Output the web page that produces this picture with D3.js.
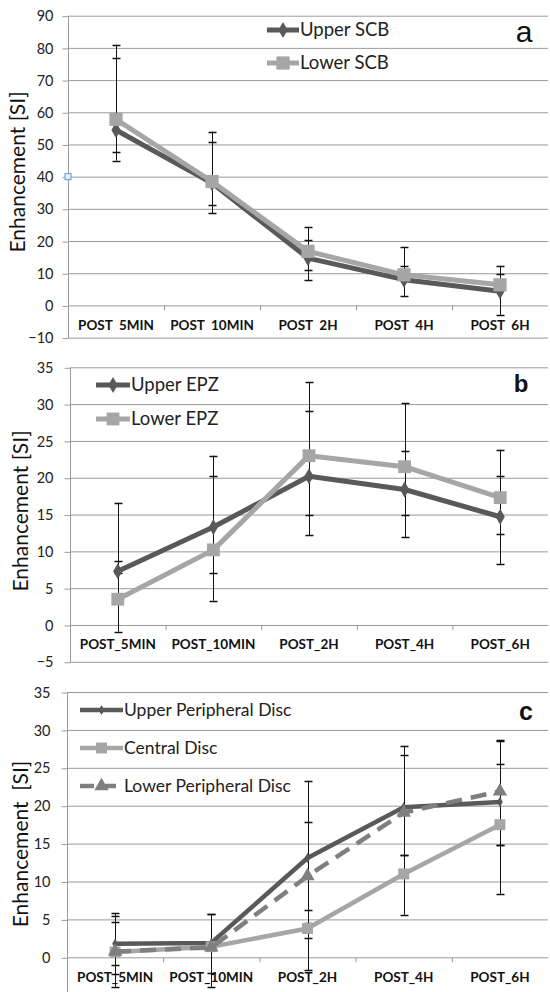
<!DOCTYPE html>
<html>
<head>
<meta charset="utf-8">
<script src="https://cdn.jsdelivr.net/npm/d3@7"></script>
<style>
  body { margin: 0; background: #fff; }
  svg { display: block; }
  text { font-family: Lato, "Open Sans", sans-serif; }
</style>
</head>
<body>
<svg width="550" height="992"></svg>
<script>
// **** data ****
var categories = ["POST_5MIN", "POST_10MIN", "POST_2H", "POST_4H", "POST_6H"];
var labelsA = ["POST  5MIN", "POST  10MIN", "POST  2H", "POST  4H", "POST  6H"];
var ticksA = [-10, 0, 10, 20, 30, 40, 50, 60, 70, 80, 90];
var ticksB = [-5, 0, 5, 10, 15, 20, 25, 30, 35];
var ticksC = [0, 5, 10, 15, 20, 25, 30, 35];

// panel a
var upperSCB   = [54.5, 38.0, 14.7, 8.0, 4.4];
var upperSCBHi = [77.0, 50.9, 20.4, 12.1, 9.9];
var upperSCBLo = [45.0, 28.7, 7.8, 2.8, -2.9];
var lowerSCB   = [57.8, 38.5, 16.8, 9.5, 6.4];
var lowerSCBHi = [81.0, 54.0, 24.3, 18.1, 12.3];
var lowerSCBLo = [47.8, 31.3, 10.9, 8.0, 6.0];

// panel b
var upperEPZ   = [7.3, 13.3, 20.2, 18.4, 14.7];
var upperEPZHi = [16.6, 20.2, 29.0, 23.6, 20.2];
var upperEPZLo = [7.0, 7.1, 12.2, 11.9, 8.3];
var lowerEPZ   = [3.5, 10.2, 23.0, 21.5, 17.3];
var lowerEPZHi = [8.7, 23.0, 33.0, 30.1, 23.8];
var lowerEPZLo = [-0.9, 3.3, 15.0, 15.0, 12.3];

// panel c
var upperPD   = [1.8, 1.9, 13.1, 19.8, 20.5];
var upperPDHi = [5.8, 5.7, 17.9, 26.7, 25.5];
var upperPDLo = [-2.2, -2.1, 6.2, 13.5, 14.8];
var centralD   = [0.7, 1.4, 3.8, 11.0, 17.5];
var centralDHi = [4.7, 2.0, 4.5, 13.5, 28.6];
var centralDLo = [-3.9, 1.0, 2.5, 5.6, 8.4];
var lowerPD   = [0.75, 1.3, 10.7, 19.1, 21.9];
var lowerPDHi = [5.5, 5.7, 23.3, 27.9, 28.7];
var lowerPDLo = [-1.0, -3.9, -1.7, 19.0, 14.8];

var DARK = "#595959", LIGHT = "#a6a6a6", MID = "#7f7f7f", GRID = "#9a9a9a";

var svg = d3.select("svg");

function marker(g, shape, size, color) {
    var sym = shape == "square" ? d3.symbolSquare : shape == "triangle" ? d3.symbolTriangle : d3.symbolDiamond;
    return g.append("path")
        .attr("d", d3.symbol().type(sym).size(size))
        .style("fill", color);
}

function drawPanel(p) {
    var x = d3.scaleBand().domain(categories).range([p.left, 548]);
    var y = d3.scaleLinear().domain(p.domain).range(p.range);
    var g = svg.append("g");

    // gridlines
    g.selectAll(".grid")
        .data(p.ticks)
        .enter()
        .append("line")
        .attr("x1", p.left).attr("x2", 548)
        .attr("y1", function(d){ return y(d) + 0.5; })
        .attr("y2", function(d){ return y(d) + 0.5; })
        .style("stroke", GRID);

    // y axis
    var ya = g.append("g")
        .attr("transform", "translate(" + (p.left + 0.5) + ",0.5)")
        .call(d3.axisLeft(y).tickValues(p.ticks).tickSize(6).tickPadding(p.pad));
    ya.select(".domain").remove();
    ya.append("line").attr("y1", p.axisTop).attr("y2", p.axisBottom).style("stroke", GRID);
    ya.selectAll(".tick line").style("stroke", GRID);
    ya.selectAll("text")
        .style("font-size", "14.5px")
        .style("fill", "#222")
        .style("font-family", "Lato");

    // x axis labels at the zero line
    var xa = g.append("g")
        .attr("transform", "translate(0," + (y(0) + 0.5) + ")")
        .call(d3.axisBottom(x).tickSize(0).tickPadding(p.xpad)
            .tickFormat(function(d, i){ return p.labels[i]; }));
    xa.select(".domain").remove();
    xa.selectAll("text")
        .style("font-size", "13.5px")
        .style("font-weight", "bold")
        .style("fill", "#111")
        .style("white-space", "pre")
        .style("font-family", "Lato");

    // x boundary ticks
    g.selectAll(".xtick")
        .data(categories.slice(1))
        .enter()
        .append("line")
        .attr("x1", function(d){ return x(d) + 0.5; })
        .attr("x2", function(d){ return x(d) + 0.5; })
        .attr("y1", y(0)).attr("y2", y(0) + 5)
        .style("stroke", GRID);

    var cx = function(i){ return x(categories[i]) + x.bandwidth() / 2; };

    // error bars
    p.series.forEach(function(s) {
        s.values.forEach(function(v, i) {
            var eb = g.append("g");
            var xx = Math.round(cx(i)) + 0.5;
            eb.append("line")
                .attr("x1", xx).attr("x2", xx)
                .attr("y1", y(s.hi[i])).attr("y2", y(s.lo[i]))
                .style("stroke", "#111");
            [s.hi[i], s.lo[i]].forEach(function(e) {
                eb.append("line")
                    .attr("x1", xx - 4).attr("x2", xx + 4)
                    .attr("y1", Math.round(y(e)) + 0.5).attr("y2", Math.round(y(e)) + 0.5)
                    .style("stroke", "#111")
                    .style("stroke-width", 1.5);
            });
        });
    });

    // lines and markers
    p.series.forEach(function(s) {
        var line = d3.line()
            .x(function(d, i){ return cx(i); })
            .y(function(d){ return y(d); });
        g.append("path")
            .datum(s.values)
            .attr("d", line)
            .style("fill", "none")
            .style("stroke", s.color)
            .style("stroke-width", s.width)
            .style("stroke-linejoin", "round")
            .style("stroke-dasharray", s.dash || null);
        s.values.forEach(function(v, i) {
            marker(g, s.shape, s.size, s.color)
                .attr("transform", "translate(" + cx(i) + "," + y(v) + ")");
        });
    });

    // legend
    p.series.forEach(function(s, i) {
        var ly = p.legend.y[i];
        var lg = g.append("g");
        lg.append("line")
            .attr("x1", p.legend.x1).attr("x2", p.legend.x2)
            .attr("y1", ly).attr("y2", ly)
            .style("stroke", s.color)
            .style("stroke-width", s.width)
            .style("stroke-dasharray", s.dash ? "14,8" : null);
        marker(lg, s.shape, s.size, s.color)
            .attr("transform", "translate(" + ((p.legend.x1 + p.legend.x2) / 2) + "," + ly + ")");
        lg.append("text")
            .attr("x", p.legend.x2 + 1)
            .attr("y", ly)
            .attr("dy", "0.35em")
            .style("font-size", p.legend.font)
            .style("fill", "#222")
            .text(s.name);
    });

    // y title
    g.append("text")
        .attr("transform", "translate(" + p.title.x + "," + p.title.y + ") rotate(-90)")
        .attr("text-anchor", "middle")
        .style("font-size", "21px")
        .style("fill", "#111")
        .style("white-space", "pre")
        .text(p.title.text);

    // panel letter
    g.append("text")
        .attr("x", p.letter.x)
        .attr("y", p.letter.y)
        .attr("text-anchor", "middle")
        .style("font-family", "'Liberation Sans', Arial, sans-serif")
        .style("font-size", p.letter.size)
        .style("font-weight", p.letter.weight)
        .style("fill", "#111")
        .text(p.letter.text);

    return { x: x, y: y, g: g };
}

var pa = drawPanel({
    left: 68, domain: [-10, 90], range: [337.6, 15.7], ticks: ticksA,
    axisTop: 15.7, axisBottom: 337.6, pad: 9, xpad: 15, labels: labelsA,
    series: [
        { name: "Upper SCB", values: upperSCB, hi: upperSCBHi, lo: upperSCBLo, color: DARK, width: 5, shape: "diamond", size: 75 },
        { name: "Lower SCB", values: lowerSCB, hi: lowerSCBHi, lo: lowerSCBLo, color: LIGHT, width: 5, shape: "square", size: 175 }
    ],
    legend: { x1: 267, x2: 299, y: [30, 63], font: "18.5px" },
    title: { x: 25, y: 172, text: "Enhancement [SI]" },
    letter: { x: 524, y: 42, size: "30px", weight: "normal", text: "a" }
});

// small selection handle left on the axis at 40
svg.append("rect")
    .attr("x", 68 - 3).attr("y", pa.y(40) - 3)
    .attr("width", 6).attr("height", 6)
    .style("fill", "#e4f0fb")
    .style("stroke", "#5b9bd5");

drawPanel({
    left: 70, domain: [-5, 35], range: [661.8, 367.3], ticks: ticksB,
    axisTop: 367.3, axisBottom: 661.8, pad: 11, xpad: 14, labels: categories,
    series: [
        { name: "Upper EPZ", values: upperEPZ, hi: upperEPZHi, lo: upperEPZLo, color: DARK, width: 5, shape: "diamond", size: 75 },
        { name: "Lower EPZ", values: lowerEPZ, hi: lowerEPZHi, lo: lowerEPZLo, color: LIGHT, width: 5, shape: "square", size: 165 }
    ],
    legend: { x1: 96, x2: 130, y: [385, 419], font: "18.5px" },
    title: { x: 28, y: 511, text: "Enhancement [SI]" },
    letter: { x: 521, y: 392, size: "24px", weight: "bold", text: "b" }
});

drawPanel({
    left: 67, domain: [-5, 35], range: [995.2, 692], ticks: ticksC,
    axisTop: 692, axisBottom: 995, pad: 11, xpad: 15, labels: categories,
    series: [
        { name: "Upper Peripheral Disc", values: upperPD, hi: upperPDHi, lo: upperPDLo, color: DARK, width: 4.5, shape: "diamond", size: 30 },
        { name: "Central Disc", values: centralD, hi: centralDHi, lo: centralDLo, color: LIGHT, width: 4.5, shape: "square", size: 120 },
        { name: "Lower Peripheral Disc", values: lowerPD, hi: lowerPDHi, lo: lowerPDLo, color: MID, width: 4.5, shape: "triangle", size: 90, dash: "16,9" }
    ],
    legend: { x1: 80, x2: 123, y: [710, 748, 786], font: "17.5px" },
    title: { x: 28, y: 844, text: "Enhancement  [SI]" },
    letter: { x: 526, y: 720, size: "25px", weight: "bold", text: "c" }
});
</script>
</body>
</html>
